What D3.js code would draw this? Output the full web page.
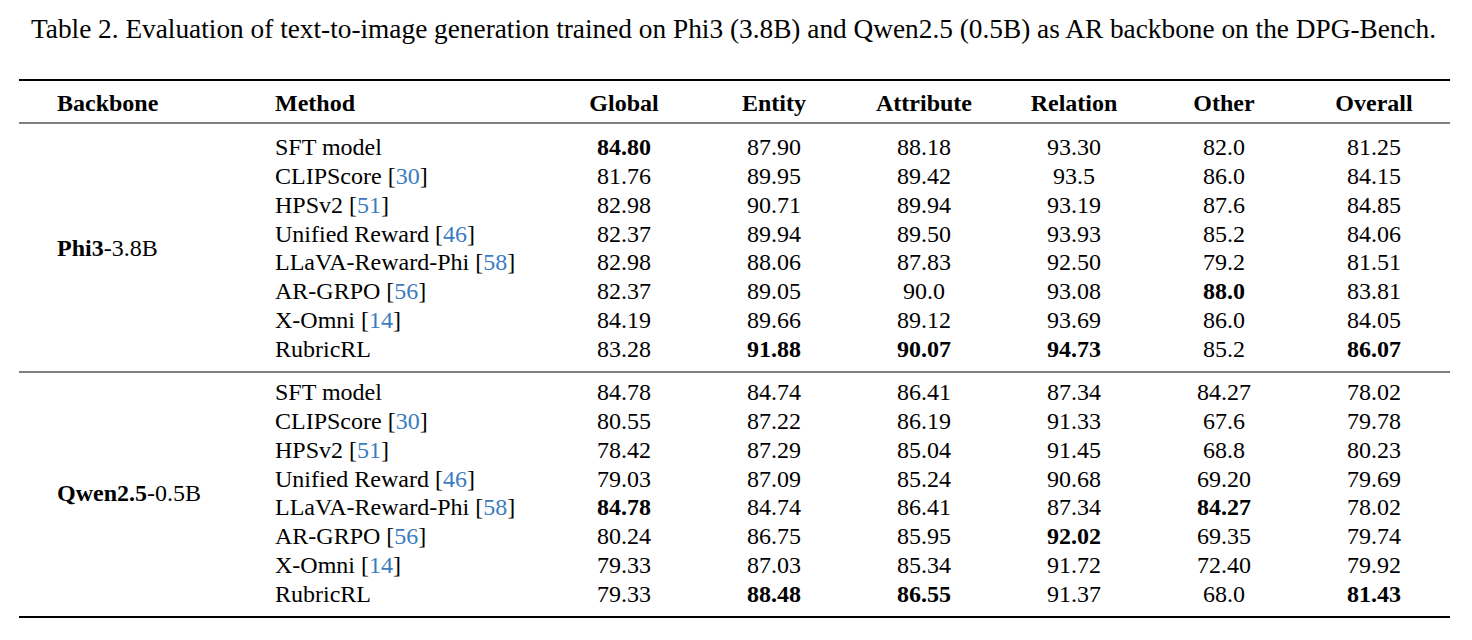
<!DOCTYPE html>
<html>
<head>
<meta charset="utf-8">
<script src="https://cdn.jsdelivr.net/npm/d3@7"></script>
<style>
  html, body { margin: 0; padding: 0; background: #fff; }
</style>
</head>
<body>
<svg id="chart" width="1472" height="640"></svg>
<script>
const caption = "Table 2. Evaluation of text-to-image generation trained on Phi3 (3.8B) and Qwen2.5 (0.5B) as AR backbone on the DPG-Bench."

const columns = ["Global", "Entity", "Attribute", "Relation", "Other", "Overall"]

// backbone name: bold part + plain part
const backbones = [["Phi3", "-3.8B"], ["Qwen2.5", "-0.5B"]]

const methods = ["SFT model", "CLIPScore", "HPSv2", "Unified Reward", "LLaVA-Reward-Phi", "AR-GRPO", "X-Omni", "RubricRL"]
const refs = ["", "30", "51", "46", "58", "56", "14", ""]

// values kept as printed
const phi3Values = [
  ["84.80", "87.90", "88.18", "93.30", "82.0", "81.25"],
  ["81.76", "89.95", "89.42", "93.5", "86.0", "84.15"],
  ["82.98", "90.71", "89.94", "93.19", "87.6", "84.85"],
  ["82.37", "89.94", "89.50", "93.93", "85.2", "84.06"],
  ["82.98", "88.06", "87.83", "92.50", "79.2", "81.51"],
  ["82.37", "89.05", "90.0", "93.08", "88.0", "83.81"],
  ["84.19", "89.66", "89.12", "93.69", "86.0", "84.05"],
  ["83.28", "91.88", "90.07", "94.73", "85.2", "86.07"]
]
const qwenValues = [
  ["84.78", "84.74", "86.41", "87.34", "84.27", "78.02"],
  ["80.55", "87.22", "86.19", "91.33", "67.6", "79.78"],
  ["78.42", "87.29", "85.04", "91.45", "68.8", "80.23"],
  ["79.03", "87.09", "85.24", "90.68", "69.20", "79.69"],
  ["84.78", "84.74", "86.41", "87.34", "84.27", "78.02"],
  ["80.24", "86.75", "85.95", "92.02", "69.35", "79.74"],
  ["79.33", "87.03", "85.34", "91.72", "72.40", "79.92"],
  ["79.33", "88.48", "86.55", "91.37", "68.0", "81.43"]
]
// row index of the bold value in each column
const phi3Bold = [0, 7, 7, 7, 5, 7]
const qwenBold = [4, 7, 7, 5, 4, 7]

const groups = [
  {backbone: backbones[0], values: phi3Values, bold: phi3Bold},
  {backbone: backbones[1], values: qwenValues, bold: qwenBold}
]

const serif = "'Liberation Serif', 'Times New Roman', Times, 'Nimbus Roman', 'DejaVu Serif', serif"
const svg = d3.select('#chart')
  .attr('font-family', serif)
  .style('font-family', serif)
const fontSize = 24
const linkColor = '#3b7cc0'
const x0 = 19, x1 = 1450

// caption, fitted to the reference width
const cap = svg.append('text')
  .attr('x', 31).attr('y', 38)
  .attr('font-size', 24)
  .text(caption)
const capW = cap.node().getComputedTextLength()
cap.attr('font-size', 24 * 1406 / capW)

// column centres
const colScale = d3.scalePoint()
  .domain(columns)
  .range([624, 1374])

// row baselines inside a group
const rowScale = d3.scaleLinear()
  .domain([0, methods.length - 1])
  .range([0, 202])
const groupTop = [155, 400]

// rules
const rules = [
  {y: 80, w: 2},
  {y: 123, w: 1.2},
  {y: 372, w: 1.2},
  {y: 617, w: 2}
]
svg.selectAll('line.rule')
  .data(rules)
  .join('line')
  .attr('class', 'rule')
  .attr('x1', x0).attr('x2', x1)
  .attr('y1', d => d.y).attr('y2', d => d.y)
  .attr('stroke', '#000')
  .attr('stroke-width', d => d.w)

// header
const header = svg.append('g').attr('font-weight', 'bold').attr('font-size', fontSize)
header.append('text').attr('x', 57).attr('y', 111).text('Backbone')
header.append('text').attr('x', 275).attr('y', 111).text('Method')
header.selectAll('text.col')
  .data(columns)
  .join('text')
  .attr('class', 'col')
  .attr('x', d => colScale(d))
  .attr('y', 111)
  .attr('text-anchor', 'middle')
  .text(d => d)

// body
groups.forEach((g, gi) => {
  const top = groupTop[gi]
  const body = svg.append('g').attr('font-size', fontSize)

  // backbone label, centred vertically on the group
  const bb = body.append('text')
    .attr('x', 57)
    .attr('y', top + rowScale((methods.length - 1) / 2))
  bb.append('tspan').attr('font-weight', 'bold').text(g.backbone[0])
  bb.append('tspan').text(g.backbone[1])

  // method names with citations
  const m = body.selectAll('text.method')
    .data(methods)
    .join('text')
    .attr('class', 'method')
    .attr('x', 275)
    .attr('y', (d, i) => top + rowScale(i))
  m.append('tspan').text(d => d)
  m.each(function (d, i) {
    if (refs[i] === '') return
    const t = d3.select(this)
    t.append('tspan').text(' [')
    t.append('tspan').attr('fill', linkColor).text(refs[i])
    t.append('tspan').text(']')
  })

  // values
  g.values.forEach((row, ri) => {
    body.selectAll(null)
      .data(row)
      .join('text')
      .attr('x', (d, ci) => colScale(columns[ci]))
      .attr('y', top + rowScale(ri))
      .attr('text-anchor', 'middle')
      .attr('font-weight', (d, ci) => g.bold[ci] === ri ? 'bold' : 'normal')
      .text(d => d)
  })
})
</script>
</body>
</html>
